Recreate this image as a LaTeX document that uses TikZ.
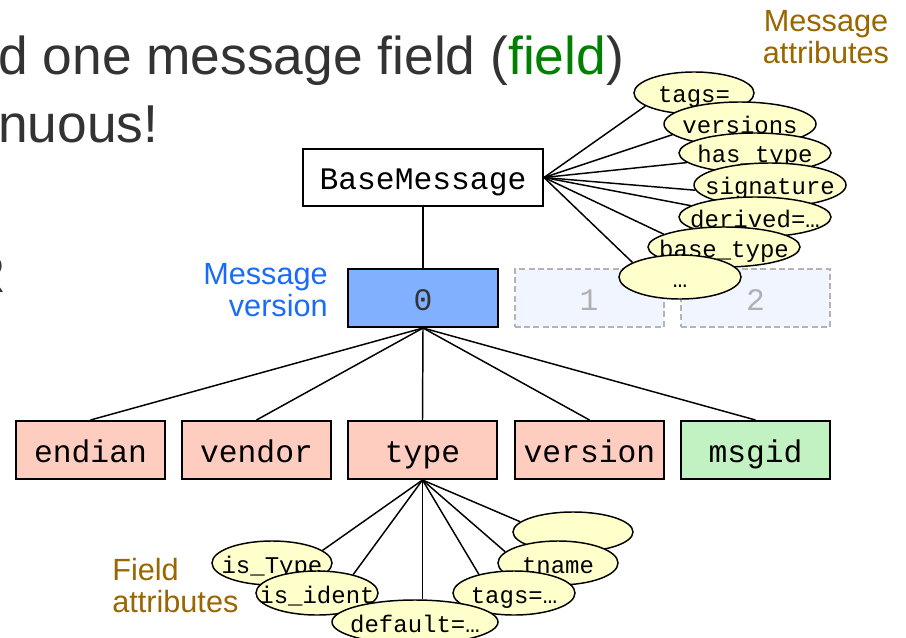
\documentclass[tikz,border=0pt]{standalone}
\usepackage{fontspec}
\setmainfont{Liberation Sans}
\newfontfamily\codefont{Liberation Mono}
\usetikzlibrary{shapes.geometric,backgrounds}

\definecolor{headgray}{HTML}{333333}
\definecolor{fieldgreen}{HTML}{008000}
\definecolor{notebrown}{HTML}{996600}
\definecolor{noteblue}{HTML}{1A6CF8}
\definecolor{hdrfill}{HTML}{FFCCC0}
\definecolor{idfill}{HTML}{C2F2C2}
\definecolor{verfill}{HTML}{80B0FF}
\definecolor{ghostfill}{HTML}{F1F5FF}
\definecolor{ghostline}{HTML}{B4B4B4}
\definecolor{ghosttext}{HTML}{B0B0B0}
\definecolor{attrfill}{HTML}{FFFFCC}

% short helper: label text that does not widen the ellipse around it
\newcommand{\attrtext}[1]{\makebox[0pt]{#1}}

\begin{document}
\begin{tikzpicture}[x=0.75pt,y=-0.75pt,
  conn/.style={line width=1.1pt},
  headline/.style={anchor=base west, inner sep=0pt, text=headgray,
    font=\fontsize{40}{40}\selectfont},
  note/.style={inner sep=0pt, font=\fontsize{23}{24}\selectfont},
  box/.style={draw, line width=1.5pt, inner sep=0pt,
    minimum width=111.75pt, minimum height=43.5pt,
    text height=19pt, text depth=1pt,
    font=\codefont\fontsize{23.5}{23.5}\selectfont},
  hdrbox/.style={box, fill=hdrfill},
  ghost/.style={box, draw=ghostline, fill=ghostfill, text=ghosttext,
    dash pattern=on 4.5pt off 2.5pt},
  attr/.style={ellipse, draw, fill=attrfill, line width=1.1pt, inner sep=0pt,
    font=\codefont\fontsize{18}{18}\selectfont,
    text height=16pt, text depth=1pt},
  wide/.style={attr, minimum width=114pt},
  narrow/.style={attr, minimum width=90pt},
]
\useasboundingbox (0,0) rectangle (906,638);

% heading text running off the left edge
\node[headline] (head1) at (-2,75) {d one message field (\textcolor{fieldgreen}{field})};
\node[headline] (head2) at (-2,143) {nuous!};
\node[headline, anchor=base east] (head3) at (6,292) {R};

% side notes
\node[note, text=notebrown, align=center] (msgnote) at (826,37) {Message\\attributes};
\node[note, text=noteblue, align=right, anchor=east] (vernote) at (328,290) {Message\\version};
\node[note, text=notebrown, align=left, anchor=west] (fldnote) at (112,586) {Field\\attributes};

% message, versions and header fields
\node[box, fill=white, minimum width=180pt, minimum height=42.75pt] (bm) at (423,177.5) {BaseMessage};
\node[box, fill=verfill, text=headgray, minimum width=112.5pt] (v0) at (423,298) {0};
\node[ghost] (v1) at (589,298) {1};
\node[ghost] (v2) at (755.5,298) {2};

\node[hdrbox] (endian) at (90.5,450) {endian};
\node[hdrbox] (vendor) at (256.5,450) {vendor};
\node[hdrbox] (type) at (422.5,450) {type};
\node[hdrbox] (version) at (589.5,450) {version};
\node[box, fill=idfill] (msgid) at (755.5,450) {msgid};

% message attributes, each one overlapping the one above
\node[narrow, minimum height=31.5pt] (mtags) at (694,93) {\attrtext{tags=}};
\node[wide, minimum height=33pt] (mvers) at (740,124) {\attrtext{versions}};
\node[wide, minimum height=30pt] (mhas) at (755,153) {\attrtext{has\_type}};
\node[wide, minimum height=33pt] (msig) at (770,185) {\attrtext{signature}};
\node[wide, minimum height=30pt] (mder) at (755,217) {\attrtext{derived=…}};
\node[wide, minimum height=30pt] (mbase) at (724,247) {\attrtext{base\_type}};
\node[attr, minimum width=91.5pt, minimum height=33pt] (mmore) at (680,277) {\attrtext{…}};

% field attributes of "type"
\node[narrow, minimum height=30pt] (fblank) at (573,532) {};
\node[narrow, minimum height=33pt] (fname) at (558,563) {\attrtext{tname}};
\node[attr, minimum width=91.5pt, minimum height=33pt] (ftags) at (514,593) {\attrtext{tags=…}};
\node[narrow, minimum height=33pt] (fistype) at (272,563) {\attrtext{is\_Type}};
\node[attr, minimum width=91.5pt, minimum height=33pt] (fisid) at (317,593) {\attrtext{is\_ident}};
\node[attr, minimum width=124.5pt, minimum height=33pt] (fdef) at (415,622) {\attrtext{default=…}};

\begin{pgfonlayer}{background}
  \draw[conn] (bm.south) -- (v0.north);
  \foreach \f in {endian,vendor,type,version,msgid}
    \draw[conn] (v0.south) -- (\f.north);
  \draw[conn] (bm.east) -- (mtags.195);
  \draw[conn] (bm.east) -- (mvers.189);
  \draw[conn] (bm.east) -- (mhas.188);
  \draw[conn] (bm.east) -- (msig.184);
  \draw[conn] (bm.east) -- (mder.170);
  \draw[conn] (bm.east) -- (mbase.168);
  \draw[conn] (bm.east) -- (mmore.163);
  \draw[conn] (type.south) -- (fistype.14);
  \draw[conn] (type.south) -- (fisid.27);
  \draw[conn] (type.south) -- (type.south |- fdef.north);
  \draw[conn] (type.south) -- (ftags.152);
  \draw[conn] (type.south) -- (fname.168);
  \draw[conn] (type.south) -- (fblank.169);
\end{pgfonlayer}
\end{tikzpicture}
\end{document}
